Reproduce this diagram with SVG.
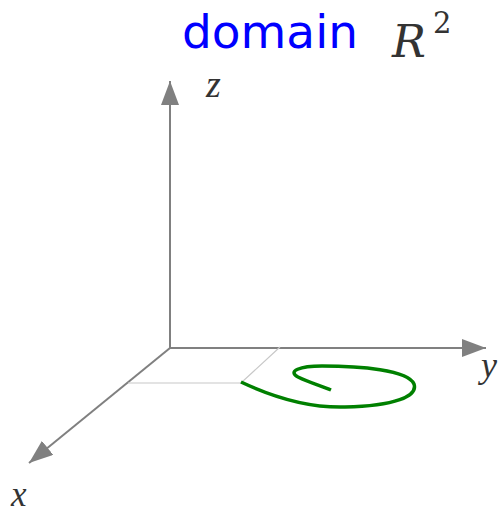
<svg xmlns="http://www.w3.org/2000/svg" width="498" height="513" viewBox="0 0 498 513">
<style>
.axis{stroke:#808080;stroke-width:2;fill:none}
.guide{stroke:#c8c8c8;stroke-width:1.2;fill:none}
.lbl{font-family:"Liberation Serif","DejaVu Serif",serif;font-style:italic;fill:#333333}
.dv{font-family:"DejaVu Serif",serif;fill:#333333}
</style>
<defs>
<marker id="ah" viewBox="0 0 24 18" refX="24" refY="9" markerWidth="24" markerHeight="18" markerUnits="userSpaceOnUse" orient="auto">
<path d="M0,0 L24,9 L0,18 Z" fill="#808080"/>
</marker>
</defs>
<rect width="498" height="513" fill="#ffffff"/>
<g id="connectors">
<line class="axis" x1="170" y1="348" x2="170" y2="81" marker-end="url(#ah)"/>
<line class="axis" x1="170" y1="348" x2="486" y2="348" marker-end="url(#ah)"/>
<line class="axis" x1="170" y1="348" x2="29" y2="463" marker-end="url(#ah)"/>
<polyline class="guide" points="128,383 241,383 280,347"/>
</g>
<g id="curve">
<path d="M241,382 C275,398 310,408 345,407 C395,406 418,396 414,384 C408,370 360,366 322,366 C300,366 287,371 298,377 C310,383 322,386 331,390" fill="none" stroke="#008000" stroke-width="3.5"/>
</g>
<g id="title">
<text x="182" y="48" font-family="DejaVu Sans, sans-serif" font-size="47" fill="#0000ff">domain</text>
<text x="392" y="57" class="dv" font-style="italic" font-size="45">R</text>
<text x="433" y="33" class="dv" font-size="29">2</text>
</g>
<g id="labels">
<text x="206" y="97" class="lbl" font-size="38">z</text>
<text x="481" y="377" class="lbl" font-size="36">y</text>
<text x="11" y="506" class="lbl" font-size="35">x</text>
</g>
</svg>
